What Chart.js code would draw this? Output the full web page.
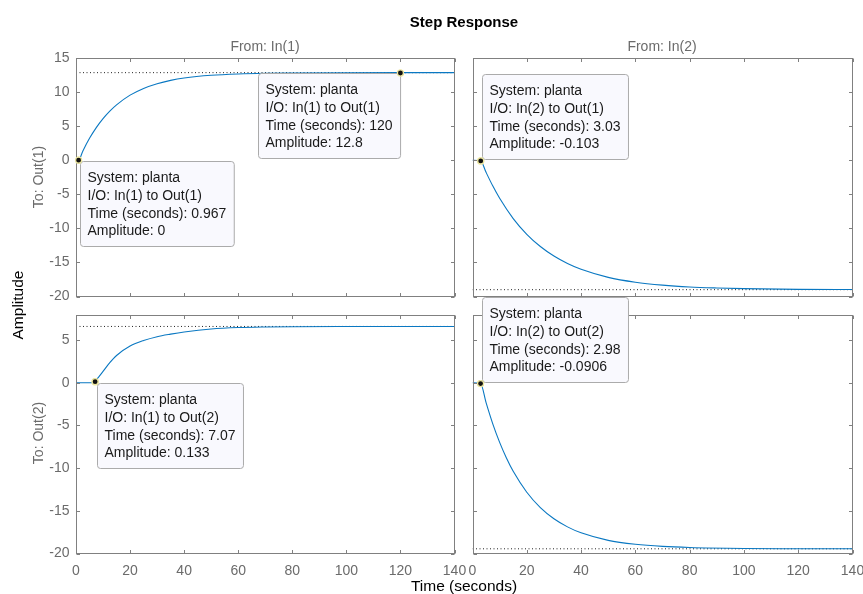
<!DOCTYPE html>
<html>
<head>
<meta charset="utf-8">
<title>Step Response</title>
<script src="https://cdn.jsdelivr.net/npm/chart.js@4.4.0/dist/chart.umd.min.js"></script>
<style>
  body { margin: 0; background: #fff; }
  #fig { position: relative; width: 863px; height: 594px; overflow: hidden; font-family: "Liberation Sans", Arial, Helvetica, sans-serif; }
  #fig canvas { position: absolute; left: 0; top: 0; }
  .lbl { position: absolute; white-space: nowrap; transform: translate(-50%, -50%); }
  .gray { color: #6b6b6b; font-size: 14px; }
  .rot { transform: translate(-50%, -50%) rotate(-90deg); }
</style>
</head>
<body>
<div id="fig">
  <canvas id="tl" width="863" height="594"></canvas>
  <canvas id="tr" width="863" height="594"></canvas>
  <canvas id="bl" width="863" height="594"></canvas>
  <canvas id="br" width="863" height="594"></canvas>
  <div class="lbl" style="left:464px;top:21px;font-size:15px;font-weight:bold;color:#000;">Step Response</div>
  <div class="lbl gray" style="left:265px;top:46px;">From: In(1)</div>
  <div class="lbl gray" style="left:662px;top:46px;">From: In(2)</div>
  <div class="lbl gray rot" style="left:38px;top:177px;">To: Out(1)</div>
  <div class="lbl gray rot" style="left:38px;top:433px;">To: Out(2)</div>
  <div class="lbl rot" style="left:18px;top:305px;font-size:15.5px;color:#000;">Amplitude</div>
  <div class="lbl" style="left:464px;top:586px;font-size:15.5px;color:#000;">Time (seconds)</div>
</div>
<script>
// tick labels
const timeTicks = [0, 20, 40, 60, 80, 100, 120, 140];
const ampTicksTop = [-20, -15, -10, -5, 0, 5, 10, 15];
const ampTicksBottom = [-20, -15, -10, -5, 0, 5];

// In(1) -> Out(1)
const timeTL = [0, 0.967, 2.5, 5, 7.5, 10, 12.5, 15, 20, 25, 30, 35, 40, 50, 60, 70, 80, 100, 120, 140];
const ampTL = [0, 0, 1.33, 3.22, 4.79, 6.11, 7.21, 8.13, 9.55, 10.54, 11.23, 11.72, 12.06, 12.46, 12.66, 12.76, 12.8, 12.84, 12.85, 12.85];
const finalTL = 12.85;

// In(2) -> Out(1)
const timeTR = [0, 3.03, 5, 7.5, 10, 15, 20, 25, 30, 35, 40, 50, 60, 70, 80, 90, 100, 120, 140];
const ampTR = [0, -0.103, -1.78, -3.8, -5.59, -8.56, -10.87, -12.67, -14.07, -15.16, -16.01, -17.19, -17.9, -18.33, -18.6, -18.75, -18.85, -18.95, -18.98];
const finalTR = -19.0;

// In(1) -> Out(2)
const timeBL = [0, 6.9, 7.07, 8.5, 10, 12.5, 15, 20, 25, 30, 35, 40, 50, 60, 70, 80, 100, 120, 140];
const ampBL = [0, 0, 0.133, 0.72, 1.33, 2.35, 3.2, 4.3, 4.95, 5.4, 5.7, 5.95, 6.3, 6.47, 6.54, 6.57, 6.59, 6.6, 6.6];
const finalBL = 6.6;

// In(2) -> Out(2)
const timeBR = [0, 2.98, 5, 7.5, 10, 12.5, 15, 20, 25, 30, 35, 40, 50, 60, 70, 80, 100, 120, 140];
const ampBR = [0, -0.0906, -2.33, -4.84, -6.98, -8.81, -10.37, -12.82, -14.62, -15.93, -16.88, -17.58, -18.46, -18.92, -19.17, -19.3, -19.41, -19.44, -19.45];
const finalBR = -19.45;

// data tips
const tipsTL = [
    { time: 0.967, amp: 0, place: 'se', lines: ['System: planta', 'I/O: In(1) to Out(1)', 'Time (seconds): 0.967', 'Amplitude: 0'] },
    { time: 120, amp: 12.8, place: 'sw', lines: ['System: planta', 'I/O: In(1) to Out(1)', 'Time (seconds): 120', 'Amplitude: 12.8'] }
];
const tipsTR = [
    { time: 3.03, amp: -0.103, place: 'ne', lines: ['System: planta', 'I/O: In(2) to Out(1)', 'Time (seconds): 3.03', 'Amplitude: -0.103'] }
];
const tipsBL = [
    { time: 7.07, amp: 0.133, place: 'se', lines: ['System: planta', 'I/O: In(1) to Out(2)', 'Time (seconds): 7.07', 'Amplitude: 0.133'] }
];
const tipsBR = [
    { time: 2.98, amp: -0.0906, place: 'ne', lines: ['System: planta', 'I/O: In(2) to Out(2)', 'Time (seconds): 2.98', 'Amplitude: -0.0906'] }
];

const FONT = '"Liberation Sans", Arial, Helvetica, sans-serif';
const W = 863, H = 594;

const framePlugin = {
    id: 'frame',
    afterDraw(chart) {
        const ctx = chart.ctx;
        const a = chart.chartArea;
        const xs = chart.scales.x, ys = chart.scales.y;
        const l = Math.round(a.left) + 0.5, r = Math.round(a.right) - 0.5;
        const t = Math.round(a.top) + 0.5, b = Math.round(a.bottom) - 0.5;
        ctx.save();
        ctx.strokeStyle = '#808080';
        ctx.lineWidth = 1;
        ctx.strokeRect(l, t, r - l, b - t);
        ctx.beginPath();
        xs.ticks.forEach(tk => {
            const px = Math.round(xs.getPixelForValue(tk.value)) + 0.5;
            ctx.moveTo(px, b); ctx.lineTo(px, b - 3.5);
            ctx.moveTo(px, t); ctx.lineTo(px, t + 3.5);
        });
        ys.ticks.forEach(tk => {
            const py = Math.round(ys.getPixelForValue(tk.value)) + 0.5;
            ctx.moveTo(l, py); ctx.lineTo(l + 3.5, py);
            ctx.moveTo(r, py); ctx.lineTo(r - 3.5, py);
        });
        ctx.stroke();

        // data tip boxes
        const tips = chart.options.plugins.frame.tips;
        const meta = chart.getDatasetMeta(0);
        ctx.font = '14px ' + FONT;
        tips.forEach((tip, i) => {
            const pt = meta.data[i];
            const w = Math.max(...tip.lines.map(s => ctx.measureText(s).width)) + 15;
            const h = 85;
            let x0, y0;
            if (tip.place === 'se') { x0 = pt.x + 1.5; y0 = pt.y + 1; }
            else if (tip.place === 'sw') { x0 = pt.x - 0.5 - w; y0 = pt.y; }
            else { x0 = pt.x + 1.5; y0 = pt.y - 2 - h; }
            x0 = Math.round(x0) + 0.5; y0 = Math.round(y0) + 0.5;
            ctx.beginPath();
            if (ctx.roundRect) ctx.roundRect(x0, y0, w, h, 3); else ctx.rect(x0, y0, w, h);
            ctx.fillStyle = '#f9f9fe';
            ctx.fill();
            ctx.strokeStyle = '#ababab';
            ctx.stroke();
            ctx.fillStyle = '#1a1a1a';
            ctx.textAlign = 'left';
            ctx.textBaseline = 'middle';
            tip.lines.forEach((s, k) => ctx.fillText(s, x0 + 7, y0 + 17 + k * 17.7));
        });
        ctx.restore();
        meta.data.forEach(p => p.draw(ctx, chart.chartArea));
    }
};

function makePanel(id, p) {
    const ctx = document.getElementById(id).getContext('2d');
    const xh = p.bottom ? 30 : 0;
    return new Chart(ctx, {
        type: 'line',
        data: {
            datasets: [
                {
                    data: p.tips.map(t => ({ x: t.time, y: t.amp })),
                    showLine: false,
                    pointRadius: 3,
                    pointBackgroundColor: '#111',
                    pointBorderColor: '#ece6a0',
                    pointBorderWidth: 1.2
                },
                {
                    data: p.time.map((t, i) => ({ x: t, y: p.amp[i] })),
                    borderColor: '#0a78c2',
                    borderWidth: 1.1,
                    pointRadius: 0,
                    cubicInterpolationMode: 'monotone',
                    fill: false
                },
                {
                    data: [{ x: timeTicks[0], y: p.final }, { x: timeTicks[timeTicks.length - 1], y: p.final }],
                    borderColor: '#222',
                    borderWidth: 1,
                    borderDash: [1, 2.5],
                    pointRadius: 0
                }
            ]
        },
        options: {
            responsive: false,
            animation: false,
            devicePixelRatio: 1,
            layout: {
                autoPadding: false,
                padding: { left: 0, top: p.box.t, right: W - p.box.r, bottom: H - p.box.b - xh }
            },
            plugins: {
                legend: { display: false },
                tooltip: { enabled: false },
                frame: { tips: p.tips }
            },
            scales: {
                x: {
                    type: 'linear',
                    min: 0,
                    max: 140,
                    afterBuildTicks: s => { s.ticks = timeTicks.map(v => ({ value: v })); },
                    afterFit: s => { s.height = xh; s.paddingLeft = 0; s.paddingRight = 0; },
                    grid: { display: false, drawTicks: false },
                    border: { display: false },
                    ticks: { display: p.bottom, autoSkip: false, maxRotation: 0, padding: 9, color: '#6b6b6b', font: { family: FONT, size: 14 } }
                },
                y: {
                    type: 'linear',
                    min: p.yMin,
                    max: p.yMax,
                    afterBuildTicks: s => { s.ticks = p.yTicks.map(v => ({ value: v })); },
                    afterFit: s => { s.width = p.box.l; s.paddingTop = 0; s.paddingBottom = 0; },
                    grid: { display: false, drawTicks: false },
                    border: { display: false },
                    ticks: { display: p.left, autoSkip: false, padding: 6.5, color: '#6b6b6b', font: { family: FONT, size: 14 } }
                }
            }
        },
        plugins: [framePlugin]
    });
}

makePanel('tl', { time: timeTL, amp: ampTL, final: finalTL, tips: tipsTL, yMin: -20, yMax: 15, yTicks: ampTicksTop,
    left: true, bottom: false, box: { l: 76, t: 58, r: 454.5, b: 296.5 } });
makePanel('tr', { time: timeTR, amp: ampTR, final: finalTR, tips: tipsTR, yMin: -20, yMax: 15, yTicks: ampTicksTop,
    left: false, bottom: false, box: { l: 472.5, t: 58, r: 852.5, b: 296.5 } });
makePanel('bl', { time: timeBL, amp: ampBL, final: finalBL, tips: tipsBL, yMin: -20, yMax: 8, yTicks: ampTicksBottom,
    left: true, bottom: true, box: { l: 76, t: 314.5, r: 454.5, b: 553.5 } });
makePanel('br', { time: timeBR, amp: ampBR, final: finalBR, tips: tipsBR, yMin: -20, yMax: 8, yTicks: ampTicksBottom,
    left: false, bottom: true, box: { l: 472.5, t: 314.5, r: 852.5, b: 553.5 } });
</script>
</body>
</html>
